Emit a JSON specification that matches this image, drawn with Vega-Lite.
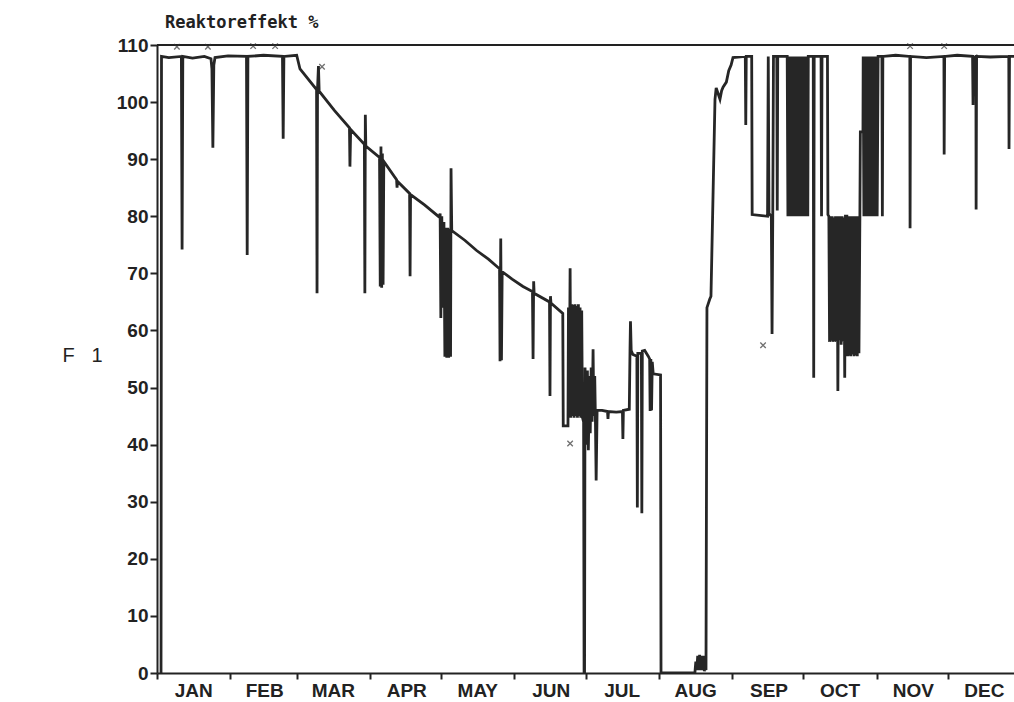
{
  "$schema": "https://vega.github.io/schema/vega-lite/v6.json",
  "width": 857,
  "height": 628,
  "autosize": "none",
  "padding": {"left": 157, "top": 45, "right": 0, "bottom": 29},
  "background": "white",
  "config": {
    "view": {"stroke": null},
    "axis": {
      "labelFont": "Liberation Sans",
      "labelFontWeight": "bold",
      "labelFontSize": 19,
      "labelColor": "#222222",
      "domainColor": "#222222",
      "domainWidth": 2,
      "tickColor": "#222222",
      "tickWidth": 2,
      "grid": false,
      "labelOverlap": false,
      "labelFlush": false
    }
  },
  "title": {
    "text": "Reaktoreffekt %",
    "anchor": "start",
    "frame": "group",
    "font": "DejaVu Sans Mono",
    "fontSize": 17,
    "fontWeight": "bold",
    "color": "#222222",
    "offset": 17,
    "baseline": "alphabetic",
    "dx": 8,
    "dy": 26
  },
  "datasets": {
    "power": [
      {"d":1.7,"p":0},{"d":1.9,"p":108},{"d":5,"p":107.8},{"d":10.3,"p":108},{"d":10.6,"p":74.2},{"d":10.9,"p":108},{"d":15,"p":107.7},{"d":20,"p":108},{"d":22.8,"p":107.6},{"d":23.2,"p":105.8},{"d":23.6,"p":92},{"d":24.0,"p":106.5},{"d":24.5,"p":107.8},{"d":30,"p":108.1},{"d":37.8,"p":108},{"d":38.1,"p":73.2},{"d":38.4,"p":108},{"d":45,"p":108.2},{"d":53,"p":108},{"d":53.3,"p":93.6},{"d":53.6,"p":108},{"d":59,"p":108.2},{"d":60.4,"p":105.8},{"d":67.4,"p":102.2},{"d":67.6,"p":66.5},{"d":67.8,"p":102.2},{"d":68.2,"p":106.3},{"d":68.5,"p":101.9},{"d":75,"p":98.5},{"d":81.3,"p":95.5},{"d":81.5,"p":88.7},{"d":81.8,"p":95.2},{"d":87.6,"p":92.6},{"d":87.8,"p":66.5},{"d":88.0,"p":97.8},{"d":88.2,"p":92.3},{"d":94.0,"p":90.3},{"d":94.3,"p":67.7},{"d":94.6,"p":92.2},{"d":94.9,"p":67.5},{"d":95.2,"p":91.0},{"d":95.5,"p":68},{"d":95.8,"p":89.6},{"d":101.2,"p":86.4},{"d":101.4,"p":85},{"d":101.6,"p":86.1},{"d":106.7,"p":84.0},{"d":106.9,"p":69.5},{"d":107.1,"p":83.8},{"d":113,"p":82},{"d":119.4,"p":79.8},{"d":119.6,"p":80.5},{"d":119.9,"p":62.2},{"d":120.3,"p":80},{"d":120.7,"p":64},{"d":121.2,"p":79},{"d":121.6,"p":55.4},{"d":122.0,"p":78},{"d":122.4,"p":55.2},{"d":122.8,"p":78},{"d":123.2,"p":55.2},{"d":123.6,"p":77.8},{"d":124.0,"p":55.4},{"d":124.2,"p":88.4},{"d":124.5,"p":77.5},{"d":130,"p":75.8},{"d":135,"p":74},{"d":140,"p":72.5},{"d":144.7,"p":70.8},{"d":144.9,"p":54.6},{"d":145.2,"p":76.1},{"d":145.5,"p":54.8},{"d":145.8,"p":70.3},{"d":150,"p":69},{"d":154.6,"p":67.7},{"d":158.6,"p":66.8},{"d":158.85,"p":55},{"d":159.1,"p":68.6},{"d":159.3,"p":66.5},{"d":165.8,"p":65},{"d":166.0,"p":48.5},{"d":166.2,"p":66},{"d":166.4,"p":64.8},{"d":171.4,"p":63.0},{"d":171.6,"p":43.3},{"d":173.6,"p":43.3},{"d":173.8,"p":64},{"d":174.1,"p":45},{"d":174.5,"p":70.9},{"d":174.8,"p":44.7},{"d":175.2,"p":64.6},{"d":175.5,"p":45},{"d":175.9,"p":64.5},{"d":176.2,"p":44.7},{"d":176.6,"p":64.6},{"d":176.9,"p":45},{"d":177.3,"p":64.3},{"d":177.6,"p":44.7},{"d":178.0,"p":64.6},{"d":178.3,"p":45},{"d":178.7,"p":64},{"d":179.0,"p":44.7},{"d":179.4,"p":63.5},{"d":179.7,"p":44.8},{"d":180.2,"p":44},{"d":180.4,"p":0},{"d":180.6,"p":0},{"d":180.8,"p":53.5},{"d":181.4,"p":40},{"d":181.8,"p":53},{"d":182.2,"p":39},{"d":182.7,"p":52},{"d":183.0,"p":42},{"d":183.4,"p":53.5},{"d":183.8,"p":44},{"d":184.2,"p":56.7},{"d":184.5,"p":45},{"d":184.9,"p":52},{"d":185.2,"p":44},{"d":185.5,"p":33.7},{"d":185.9,"p":46},{"d":188,"p":46},{"d":190.3,"p":45.8},{"d":190.5,"p":44.5},{"d":190.7,"p":45.8},{"d":194,"p":45.7},{"d":196.6,"p":45.8},{"d":196.8,"p":41},{"d":197.0,"p":46},{"d":199.5,"p":46.2},{"d":199.8,"p":56.5},{"d":200.0,"p":61.6},{"d":200.3,"p":56.5},{"d":201,"p":55.8},{"d":202.7,"p":55.5},{"d":202.9,"p":29},{"d":203.1,"p":56},{"d":204.6,"p":56},{"d":204.8,"p":28},{"d":205.0,"p":56.4},{"d":206,"p":56.5},{"d":207.5,"p":55.5},{"d":208.1,"p":55},{"d":208.3,"p":45.9},{"d":208.6,"p":55},{"d":208.9,"p":46},{"d":209.2,"p":54.5},{"d":209.6,"p":52.4},{"d":212.7,"p":52.2},{"d":212.9,"p":0},{"d":227.2,"p":0},{"d":227.6,"p":2},{"d":228.0,"p":0.5},{"d":228.4,"p":3},{"d":228.8,"p":0.5},{"d":229.2,"p":3.2},{"d":229.6,"p":0.5},{"d":230.0,"p":3},{"d":230.4,"p":0.5},{"d":230.8,"p":3},{"d":231.2,"p":0.3},{"d":231.6,"p":2.5},{"d":231.9,"p":0.5},{"d":232.3,"p":64},{"d":233.5,"p":65.5},{"d":234.0,"p":66},{"d":235.7,"p":100.5},{"d":236.2,"p":102.5},{"d":237,"p":101.5},{"d":237.8,"p":100.5},{"d":238.5,"p":102},{"d":239.1,"p":102.6},{"d":240.5,"p":103.5},{"d":241.5,"p":105.5},{"d":242.5,"p":106.5},{"d":243.3,"p":107.8},{"d":248.5,"p":108},{"d":248.7,"p":96},{"d":248.9,"p":108},{"d":251.2,"p":108},{"d":251.4,"p":80.3},{"d":257.9,"p":80},{"d":258.2,"p":108},{"d":258.5,"p":80.5},{"d":259.5,"p":80},{"d":259.8,"p":59.4},{"d":260.1,"p":80},{"d":260.4,"p":108},{"d":261.8,"p":108},{"d":262.0,"p":81},{"d":262.2,"p":108},
      {"d":266.2,"p":108},{"d":266.5,"p":80},{"d":266.9,"p":108},{"d":267.2,"p":80},{"d":267.6,"p":108},{"d":267.9,"p":80},{"d":268.3,"p":108},{"d":268.6,"p":80},{"d":269.0,"p":108},{"d":269.3,"p":80},{"d":269.7,"p":108},{"d":270.0,"p":80},{"d":270.4,"p":108},{"d":270.7,"p":80},{"d":271.1,"p":108},{"d":271.4,"p":80},{"d":271.8,"p":108},{"d":272.1,"p":80},{"d":272.5,"p":108},{"d":272.8,"p":80},{"d":273.2,"p":108},{"d":273.5,"p":80},{"d":273.9,"p":108},{"d":274.2,"p":80},{"d":274.6,"p":108},{"d":274.9,"p":80},{"d":275.1,"p":108},
      {"d":277.2,"p":108},{"d":277.4,"p":51.7},{"d":277.6,"p":108},{"d":280.5,"p":108},{"d":280.7,"p":80},{"d":280.9,"p":108},{"d":283.2,"p":108},{"d":283.4,"p":80.3},{"d":283.8,"p":80},
      {"d":284.1,"p":58},{"d":284.5,"p":80},{"d":284.8,"p":58.2},{"d":285.2,"p":80},{"d":285.5,"p":58},{"d":285.9,"p":79.8},{"d":286.2,"p":58.1},{"d":286.6,"p":80},{"d":286.9,"p":58},{"d":287.3,"p":80},{"d":287.6,"p":49.4},{"d":288.0,"p":80},{"d":288.3,"p":58.3},{"d":288.7,"p":80},{"d":289.0,"p":57.5},{"d":289.4,"p":80},{"d":289.7,"p":58},{"d":290.1,"p":79.8},{"d":290.5,"p":51.7},{"d":290.8,"p":80},{"d":291.4,"p":80},
      {"d":291.7,"p":55.5},{"d":292.0,"p":80},{"d":292.3,"p":55.6},{"d":292.7,"p":80},{"d":293.0,"p":55.5},{"d":293.4,"p":80},{"d":293.7,"p":55.8},{"d":294.1,"p":80},{"d":294.4,"p":55.5},{"d":294.8,"p":80},{"d":295.1,"p":55.6},{"d":295.5,"p":80},{"d":295.8,"p":55.5},{"d":296.2,"p":80},{"d":296.5,"p":56},{"d":296.9,"p":80},{"d":297.1,"p":94.8},{"d":298.2,"p":94.8},
      {"d":298.3,"p":108},{"d":298.6,"p":80},{"d":299.0,"p":108},{"d":299.3,"p":80},{"d":299.7,"p":108},{"d":300.0,"p":80},{"d":300.4,"p":108},{"d":300.7,"p":80},{"d":301.1,"p":108},{"d":301.4,"p":80},{"d":301.8,"p":108},{"d":302.1,"p":80},{"d":302.5,"p":108},{"d":302.8,"p":80},{"d":303.2,"p":108},{"d":303.5,"p":80},{"d":303.9,"p":108},{"d":304.2,"p":80},{"d":304.6,"p":108},
      {"d":306.2,"p":108},{"d":306.4,"p":80},{"d":306.6,"p":108},{"d":312,"p":108.2},{"d":318.0,"p":108},{"d":318.1,"p":77.9},{"d":318.3,"p":108},{"d":325,"p":107.8},{"d":332.4,"p":108},{"d":332.5,"p":90.8},{"d":332.7,"p":108},{"d":338,"p":108.2},{"d":344.5,"p":108},{"d":344.7,"p":99.5},{"d":344.9,"p":107.8},{"d":345.9,"p":108},{"d":346.0,"p":81.2},{"d":346.2,"p":108},{"d":352,"p":107.9},{"d":359.8,"p":108},{"d":359.9,"p":91.8},{"d":360.1,"p":108},{"d":362,"p":108}
    ],
    "markers": [
      {"d":8.4,"p":109.7},{"d":21.5,"p":109.7},{"d":40.6,"p":109.8},{"d":49.9,"p":109.8},{"d":69.7,"p":106.2},{"d":174.5,"p":40.2},{"d":256,"p":57.4},{"d":318.1,"p":109.8},{"d":332.5,"p":109.8}
    ],
    "top": [{"level": 110}],
    "months": [
      {"mid": 15.5, "name": "JAN"}, {"mid": 45.5, "name": "FEB"}, {"mid": 74.5, "name": "MAR"}, {"mid": 105.5, "name": "APR"},
      {"mid": 135.5, "name": "MAY"}, {"mid": 166.5, "name": "JUN"}, {"mid": 196.5, "name": "JUL"}, {"mid": 227.5, "name": "AUG"},
      {"mid": 258.5, "name": "SEP"}, {"mid": 288.5, "name": "OCT"}, {"mid": 319.5, "name": "NOV"}, {"mid": 349.5, "name": "DEC"}
    ]
  },
  "layer": [
    {
      "data": {"name": "top"},
      "mark": {"type": "rule", "color": "#222222", "strokeWidth": 2},
      "encoding": {
        "y": {"field": "level", "type": "quantitative", "scale": {"domain": [0, 110], "nice": false}}
      }
    },
    {
      "data": {"name": "power"},
      "mark": {"type": "line", "color": "#262626", "strokeWidth": 2.8, "clip": true, "strokeJoin": "miter"},
      "encoding": {
        "x": {
          "field": "d", "type": "quantitative",
          "scale": {"domain": [0, 362], "nice": false, "zero": false},
          "axis": {
            "title": null,
            "values": [0, 31, 59, 90, 120, 151, 181, 212, 243, 273, 304, 334],
            "labels": false,
            "tickSize": 6
          }
        },
        "y": {
          "field": "p", "type": "quantitative",
          "scale": {"domain": [0, 110], "nice": false},
          "axis": {
            "values": [0, 5, 10, 15, 20, 25, 30, 35, 40, 45, 50, 55, 60, 65, 70, 75, 80, 85, 90, 95, 100, 105, 110],
            "labelExpr": "datum.value % 10 == 0 ? datum.label : ''",
            "tickSize": {"condition": {"test": "datum.value % 10 == 0", "value": 7}, "value": 3},
            "labelPadding": 2,
            "title": "F\u00a0\u00a0\u00a01",
            "titleAngle": 0,
            "titleX": -75,
            "titleY": 310,
            "titleAlign": "center",
            "titleBaseline": "middle",
            "titleFont": "Liberation Sans",
            "titleFontSize": 20,
            "titleFontWeight": "normal",
            "titleColor": "#222222"
          }
        }
      }
    },
    {
      "data": {"name": "markers"},
      "mark": {"type": "point", "shape": "M-1,-1L1,1M1,-1L-1,1", "size": 30, "filled": false, "stroke": "#333333", "strokeWidth": 1.3},
      "encoding": {
        "x": {"field": "d", "type": "quantitative"},
        "y": {"field": "p", "type": "quantitative"}
      }
    },
    {
      "data": {"name": "months"},
      "mark": {"type": "text", "font": "Liberation Sans", "fontWeight": "bold", "fontSize": 19, "color": "#222222", "baseline": "top", "dy": 9, "clip": false},
      "encoding": {
        "x": {"field": "mid", "type": "quantitative"},
        "y": {"datum": 0},
        "text": {"field": "name"}
      }
    }
  ]
}
